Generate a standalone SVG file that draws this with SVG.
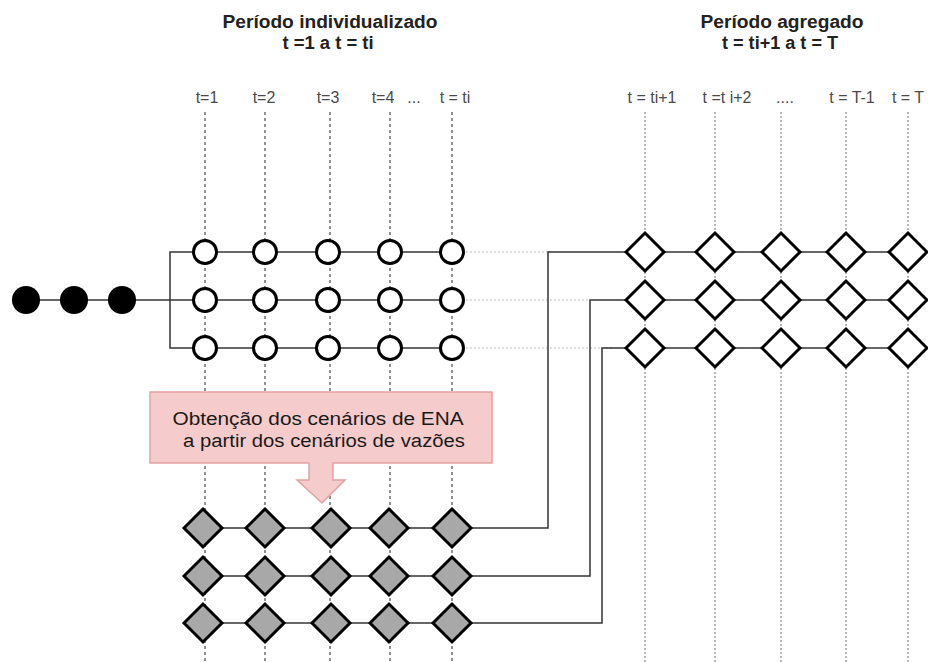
<svg xmlns="http://www.w3.org/2000/svg" width="928" height="662" viewBox="0 0 928 662">
<style>
.title{font-family:"Liberation Sans",Arial,sans-serif;font-weight:bold;font-size:18px;fill:#222;text-anchor:middle}
.lbl{font-family:"Liberation Sans",Arial,sans-serif;font-size:16px;fill:#4a4a4a;text-anchor:middle}
.box{font-family:"Liberation Sans",Arial,sans-serif;font-size:18px;fill:#1a1a1a;text-anchor:middle}
.vl{stroke:#222;stroke-width:1;stroke-dasharray:3 3;fill:none}
.vr{stroke:#888;stroke-width:1.2;stroke-dasharray:2 2;fill:none}
.hd{stroke:#bbb;stroke-width:1.2;stroke-dasharray:2 2;fill:none}
.ln{stroke:#333;stroke-width:1.5;fill:none}
.circ{fill:#fff;stroke:#000;stroke-width:3}
.dot{fill:#000}
.dw{fill:#fff;stroke:#000;stroke-width:3;stroke-linejoin:miter}
.dg{fill:#a8a8a8;stroke:#000;stroke-width:3;stroke-linejoin:miter}
</style>
<defs>
<path id="dia" d="M-19,0 L0,-19 L19,0 L0,19 Z"/>
</defs>
<rect width="928" height="662" fill="#fff"/>

<g id="titles">
<text class="title" x="330" y="28" textLength="215" lengthAdjust="spacingAndGlyphs">Período individualizado</text>
<text class="title" x="328" y="49" textLength="91" lengthAdjust="spacingAndGlyphs">t =1 a t = ti</text>
<text class="title" x="782" y="28" textLength="163" lengthAdjust="spacingAndGlyphs">Período agregado</text>
<text class="title" x="780" y="49" textLength="116" lengthAdjust="spacingAndGlyphs">t = ti+1 a t = T</text>
</g>

<g id="labels">
<text class="lbl" x="207" y="103">t=1</text>
<text class="lbl" x="264" y="103">t=2</text>
<text class="lbl" x="328" y="103">t=3</text>
<text class="lbl" x="383" y="103">t=4</text>
<text class="lbl" x="414" y="103">...</text>
<text class="lbl" x="455" y="103">t = ti</text>
<text class="lbl" x="652" y="103">t = ti+1</text>
<text class="lbl" x="727" y="103">t =t i+2</text>
<text class="lbl" x="785" y="103">....</text>
<text class="lbl" x="852" y="103">t = T-1</text>
<text class="lbl" x="908" y="103">t = T</text>
</g>

<g id="connectors">
<line class="vl" x1="205" y1="112" x2="205" y2="662"/>
<line class="vl" x1="265" y1="112" x2="265" y2="662"/>
<line class="vl" x1="330" y1="112" x2="330" y2="662"/>
<line class="vl" x1="390" y1="112" x2="390" y2="662"/>
<line class="vl" x1="452" y1="112" x2="452" y2="662"/>
<line class="vr" x1="645" y1="112" x2="645" y2="662"/>
<line class="vr" x1="715" y1="112" x2="715" y2="662"/>
<line class="vr" x1="781" y1="112" x2="781" y2="662"/>
<line class="vr" x1="846" y1="112" x2="846" y2="662"/>
<line class="vr" x1="908" y1="112" x2="908" y2="662"/>

<line class="ln" x1="26" y1="300" x2="452" y2="300"/>
<polyline class="ln" points="205,252 170,252 170,348 205,348"/>
<line class="ln" x1="205" y1="252" x2="452" y2="252"/>
<line class="ln" x1="205" y1="348" x2="452" y2="348"/>

<line class="hd" x1="466" y1="252" x2="548" y2="252"/>
<line class="hd" x1="466" y1="300" x2="590" y2="300"/>
<line class="hd" x1="466" y1="348" x2="612" y2="348"/>

<polyline class="ln" points="452,528 548,528 548,252 928,252"/>
<polyline class="ln" points="452,576 590,576 590,300 928,300"/>
<polyline class="ln" points="452,623 602,623 602,348 928,348"/>
<line class="ln" x1="203" y1="528" x2="452" y2="528"/>
<line class="ln" x1="203" y1="576" x2="452" y2="576"/>
<line class="ln" x1="203" y1="623" x2="452" y2="623"/>
</g>

<g id="start-nodes">
<circle class="dot" cx="26" cy="300" r="14"/>
<circle class="dot" cx="74" cy="300" r="14"/>
<circle class="dot" cx="122" cy="300" r="14"/>
</g>

<g id="circle-nodes">
<circle class="circ" cx="205" cy="252" r="11.5"/><circle class="circ" cx="265" cy="252" r="11.5"/><circle class="circ" cx="328" cy="252" r="11.5"/><circle class="circ" cx="390" cy="252" r="11.5"/><circle class="circ" cx="452" cy="252" r="11.5"/>
<circle class="circ" cx="205" cy="300" r="11.5"/><circle class="circ" cx="265" cy="300" r="11.5"/><circle class="circ" cx="328" cy="300" r="11.5"/><circle class="circ" cx="390" cy="300" r="11.5"/><circle class="circ" cx="452" cy="300" r="11.5"/>
<circle class="circ" cx="205" cy="348" r="11.5"/><circle class="circ" cx="265" cy="348" r="11.5"/><circle class="circ" cx="328" cy="348" r="11.5"/><circle class="circ" cx="390" cy="348" r="11.5"/><circle class="circ" cx="452" cy="348" r="11.5"/>
</g>

<g id="agg-nodes">
<use href="#dia" class="dw" x="645" y="252"/><use href="#dia" class="dw" x="715" y="252"/><use href="#dia" class="dw" x="781" y="252"/><use href="#dia" class="dw" x="846" y="252"/><use href="#dia" class="dw" x="908" y="252"/>
<use href="#dia" class="dw" x="645" y="300"/><use href="#dia" class="dw" x="715" y="300"/><use href="#dia" class="dw" x="781" y="300"/><use href="#dia" class="dw" x="846" y="300"/><use href="#dia" class="dw" x="908" y="300"/>
<use href="#dia" class="dw" x="645" y="348"/><use href="#dia" class="dw" x="715" y="348"/><use href="#dia" class="dw" x="781" y="348"/><use href="#dia" class="dw" x="846" y="348"/><use href="#dia" class="dw" x="908" y="348"/>
</g>

<g id="ena-nodes">
<use href="#dia" class="dg" x="203" y="528"/><use href="#dia" class="dg" x="265" y="528"/><use href="#dia" class="dg" x="331" y="528"/><use href="#dia" class="dg" x="389" y="528"/><use href="#dia" class="dg" x="452" y="528"/>
<use href="#dia" class="dg" x="203" y="576"/><use href="#dia" class="dg" x="265" y="576"/><use href="#dia" class="dg" x="331" y="576"/><use href="#dia" class="dg" x="389" y="576"/><use href="#dia" class="dg" x="452" y="576"/>
<use href="#dia" class="dg" x="203" y="623"/><use href="#dia" class="dg" x="265" y="623"/><use href="#dia" class="dg" x="331" y="623"/><use href="#dia" class="dg" x="389" y="623"/><use href="#dia" class="dg" x="452" y="623"/>
</g>

<g id="callout">
<path d="M150,392 H492 V463 H333 V480 H345 L322,503 L297,480 H309 V463 H150 Z" fill="#f6cbcb" stroke="#e0a3a3" stroke-width="1.5"/>
<text class="box" x="318" y="425" textLength="291" lengthAdjust="spacingAndGlyphs">Obtenção dos cenários de ENA</text>
<text class="box" x="324" y="447" textLength="282" lengthAdjust="spacingAndGlyphs">a partir dos cenários de vazões</text>
</g>
</svg>
